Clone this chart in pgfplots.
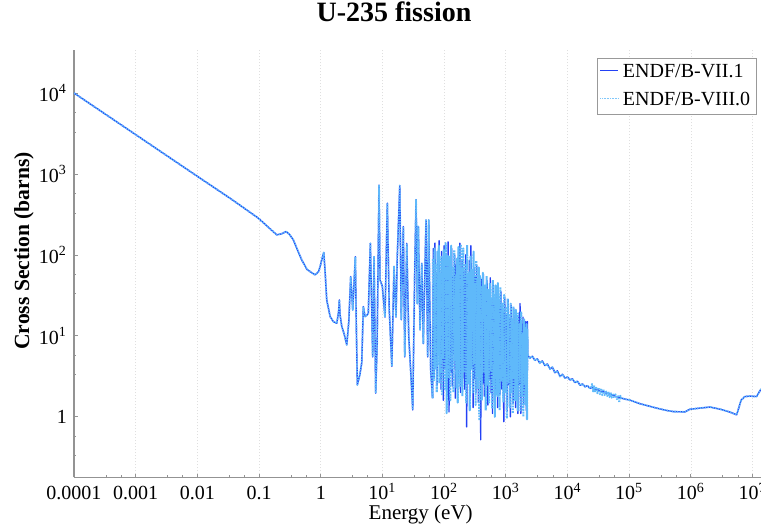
\documentclass[border=0pt]{standalone}
\usepackage{fontspec}
\setmainfont{Liberation Serif}
\usepackage{pgfplots}
\usepackage{pgfplotstable}
\pgfplotsset{compat=1.18}
\definecolor{c71}{RGB}{35,65,245}
\definecolor{c80}{RGB}{95,185,250}

\pgfplotstableread{
E s
0.0001 10000
0.001 3060
0.01 935
0.034 500
0.06 369
0.0975 284
0.14 221
0.194 177
0.23 182
0.274 194
0.31 180
0.36 153
0.42 115
0.492 86.7
0.6 66
0.809 56.6
0.92 62
0.975 71.7
1.06 92
1.12 107
1.18 60
1.25 27.8
1.42 17.3
1.6 15
1.82 14.3
1.95 20
2.0 27.8
2.06 18
2.19 13.1
2.4 10.5
2.64 7.75
2.85 15
3.06 54
3.3 20.9
3.64 95
3.78 12
3.92 2.48
4.3 3.3
4.62 4.64
4.9 23
5.22 17.3
5.6 18
5.9 19
6.37 139
6.96 5.5
7.31 95
7.78 1.96
8.2 8
8.81 730
9.15 49
9.96 41
11.0 17
12.0 436
12.9 21
14.2 4.2
15.4 72
16.6 17
17.4 95
19.1 720
20.2 15.8
21.8 224
23.0 5.5
24.8 139
26.7 9.8
28.7 3.7
31.0 1.22
33.4 65
35.1 480
36.8 25
38.2 224
40.7 11.8
43.4 79
46.0 8.0
50.9 270
54.2 5.5
56.3 270
60.6 3.7
65 1.7
}\low

\pgfplotstableread{
E s
65 1.7
67 120
69 3.0
71 140
73 4.5
75 60
77 2.5
79 90
81 6
83 150
85 3.2
87 45
89 2.2
91 110
93 5
95 70
97 1.6
100 130
104 4
108 95
112 1.8
116 145
120 1.15
124 80
128 3.5
132 120
136 2.4
140 55
144 6
148 100
152 1.7
156 75
160 4
164 40
168 2.6
172 110
176 5.5
180 140
184 2.0
188 60
192 7
196 85
200 3
208 65
216 2.2
224 100
232 0.75
240 50
248 3.5
256 85
264 1.8
272 130
280 4.5
288 40
296 1.3
304 70
312 3
320 55
328 2
336 75
344 5
352 35
360 1.5
368 60
376 3.2
384 45
392 0.52
400 50
416 2.5
432 58
448 1.8
464 35
480 4
496 48
512 1.4
528 30
544 3
560 52
576 2
592 25
608 1.1
624 45
640 3.5
656 28
672 1.6
688 40
704 5
720 22
736 1.3
752 38
768 2.8
784 26
800 1.9
832 35
864 2.2
896 20
928 0.87
960 30
992 3
1024 18
1056 1.2
1088 28
1120 2.5
1152 16
1184 1.0
1216 24
1248 3.2
1280 14
1312 1.5
1344 22
1376 2.4
1408 12
1440 1.3
1472 20
1504 3
1536 13
1568 1.1
1600 18
1650 2.5
1700 25
1750 1.1
1800 12
1850 2
1900 17
1950 1.4
2000 10
2050 2.2
2100 15
2150 1.2
2190 11
2220 0.95
2240 15
2260 5.8
}\denseA

\pgfplotstableread{
E s
65 1.7
66 90
68 2.8
70 120
72 3.8
74 75
76 2.0
78 110
80 4.5
82 130
84 2.6
86 60
88 3.5
90 95
92 1.9
94 85
96 5.5
98 115
102 2.2
106 140
110 1.11
114 100
118 3.0
122 95
126 1.6
130 130
134 4.0
138 70
142 2.0
146 115
150 5
154 55
158 2.3
162 90
166 1.5
170 125
174 3.8
178 80
182 2.4
186 135
190 4.2
194 70
198 1.8
204 120
212 3.5
220 75
228 1.5
236 133
244 2.6
252 60
260 1.2
268 95
276 3.8
284 65
292 2.0
300 110
308 4.5
316 45
324 1.4
332 85
340 3.2
348 50
356 2.2
364 70
372 0.9
380 55
388 2.8
396 40
408 1.6
424 60
440 3.5
456 42
472 1.2
488 55
504 2.5
520 38
536 1.5
552 45
568 3.8
584 30
600 1.3
616 49
632 2.4
648 33
664 1.0
680 42
696 3.0
712 28
728 1.8
744 45
760 2.2
776 30
792 1.2
816 40
848 2.8
880 25
912 1.5
944 32
976 2.0
1008 22
1040 0.95
1072 29
1104 2.6
1136 18
1168 1.3
1200 25
1232 2.0
1264 16
1296 1.1
1328 23
1360 3.0
1392 14
1424 1.6
1456 21
1488 2.2
1520 15
1552 1.2
1584 19
1625 2.8
1675 14
1725 1.2
1775 20
1825 1.8
1875 11
1925 1.0
1975 16
2025 2.5
2075 12
2125 1.4
2170 14
2205 0.93
2235 12
2260 5.8
}\denseB

\pgfplotstableread{
E s
2260 5.8
2450 5.3
2700 5.6
2950 5.0
3250 5.2
3550 4.6
3900 4.9
4300 4.3
4700 4.5
5200 3.9
5700 4.1
6250 3.5
6850 3.7
7550 3.15
8300 3.35
9100 3.0
10000 3.1
11000 2.85
12000 2.95
13200 2.65
14500 2.75
16000 2.45
17500 2.55
19200 2.35
21000 2.42
23000 2.25
25500 2.3
28000 2.15
31000 2.18
34000 2.05
37000 2.08
41000 1.97
45000 1.95
50000 1.88
55000 1.84
61000 1.78
67000 1.75
74000 1.7
82000 1.67
90000 1.64
100000 1.62
}\urrA

\pgfplotstableread{
E s
2260 5.8
2450 5.3
2700 5.6
2950 5.0
3250 5.2
3550 4.6
3900 4.9
4300 4.3
4700 4.5
5200 3.9
5700 4.1
6250 3.5
6850 3.7
7550 3.15
8300 3.35
9100 3.0
10000 3.1
11000 2.85
12000 2.95
13200 2.65
14500 2.75
16000 2.45
17500 2.55
19200 2.35
21000 2.42
23000 2.25
24000 2.3
25000 2.55
26000 2.05
27000 2.45
28000 2.0
29000 2.35
30500 1.95
32000 2.3
33500 1.9
35000 2.25
36500 1.85
38000 2.2
40000 1.85
42000 2.1
44000 1.8
46000 2.05
48000 1.75
50000 2.0
52000 1.72
54500 1.95
57000 1.7
60000 1.9
63000 1.65
66000 1.85
69000 1.5
72000 1.82
75000 1.7
82000 1.67
90000 1.64
100000 1.62
}\urrB

\pgfplotstableread{
E s
100000 1.62
150000 1.45
279000 1.28
400000 1.2
519000 1.16
800000 1.15
966000 1.24
1400000 1.28
2040000 1.32
3000000 1.24
4200000 1.15
5520000 1.06
6000000 1.3
6500000 1.6
7500000 1.78
9000000 1.8
11600000 1.78
13700000 2.2
}\fast

\begin{document}
\begin{tikzpicture}
\begin{axis}[
  name=ax, at={(0,0)}, anchor=south west,
  scale only axis, width=343.5pt, height=213.65pt,
  xmode=log, ymode=log,
  xmin=1e-4, xmax=1.37e7, ymin=0.179, ymax=34000,
  axis lines*=left,
  axis line style={gray!85, line width=0.6pt},
  xtick={1e-4,1e-3,0.01,0.1,1,10,100,1000,1e4,1e5,1e6,1e7},
  xticklabels={0.0001,0.001,0.01,0.1,1,10\textsuperscript{1},10\textsuperscript{2},10\textsuperscript{3},10\textsuperscript{4},10\textsuperscript{5},10\textsuperscript{6},10\textsuperscript{7}},
  ytick={1,10,100,1000,10000},
  yticklabels={1,10\textsuperscript{1},10\textsuperscript{2},10\textsuperscript{3},10\textsuperscript{4}},
  minor xtick={3.3e-4,5.8e-4,3.3e-3,5.8e-3,0.033,0.058,0.33,0.58,3.3,5.8,33,58,330,580,3300,5800,33000,58000,3.3e5,5.8e5,3.3e6,5.8e6},
  minor ytick={0.33,0.58,3.3,5.8,33,58,330,580,3300,5800},
  major tick length=1.8pt, minor tick length=1.1pt,
  tick style={gray!85, line width=0.4pt},
  xmajorgrids,
  grid style={gray!25, line width=0.35pt, dash pattern=on 0.5pt off 1pt},
  tick label style={font=\fontsize{10}{12}\selectfont},
  xticklabel style={anchor=base, yshift=-11pt},
  title={U-235 fission},
  title style={font=\bfseries\fontsize{14}{16}\selectfont, at={(axis description cs:0.4658,1)}, anchor=base, yshift=8.35pt},
  ylabel={Cross Section (barns)},
  ylabel style={font=\bfseries\fontsize{10.8}{13}\selectfont, at={(axis description cs:-0.0728,0.53)}, anchor=center},
  xlabel={Energy (eV)},
  xlabel style={font=\fontsize{10.5}{12}\selectfont, at={(axis description cs:0.5,0)}, anchor=base, yshift=-21pt, xshift=1.6pt},
  legend style={at={(axis description cs:1,1)}, anchor=north east, xshift=-2pt, yshift=-4pt, draw=gray!80, line width=0.4pt, font=\fontsize{10}{12}\selectfont, inner sep=1.2pt, row sep=1.5pt, cells={anchor=west}},
  legend image code/.code={\draw[#1] (0pt,1pt) -- (9pt,1pt);},
  every axis plot/.append style={line join=round},
]
\addplot[c71, line width=0.7pt, forget plot] table {\low};
\addplot[c71, line width=0.7pt, forget plot] table {\denseA};
\addplot[c71, line width=0.7pt, forget plot] table {\urrA};
\addplot[c71, line width=0.7pt, forget plot] table {\fast};
\addplot[c80, line width=0.9pt, dash pattern=on 0.7pt off 0.6pt, forget plot] table {\low};
\addplot[c80, line width=1.05pt, dash pattern=on 0.9pt off 0.5pt, forget plot] table {\denseB};
\addplot[c80, line width=0.9pt, dash pattern=on 0.7pt off 0.6pt, forget plot] table {\urrB};
\addplot[c80, line width=0.9pt, dash pattern=on 0.7pt off 0.6pt, forget plot] table {\fast};
\addlegendimage{c71, line width=0.5pt}
\addlegendentry{ENDF/B-VII.1}
\addlegendimage{c80!80, line width=0.6pt, dash pattern=on 0.4pt off 0.4pt}
\addlegendentry{ENDF/B-VIII.0}
\end{axis}
\pgfresetboundingbox
\path (-37pt,-25.35pt) rectangle (343.5pt,238.65pt);
\end{tikzpicture}
\end{document}
